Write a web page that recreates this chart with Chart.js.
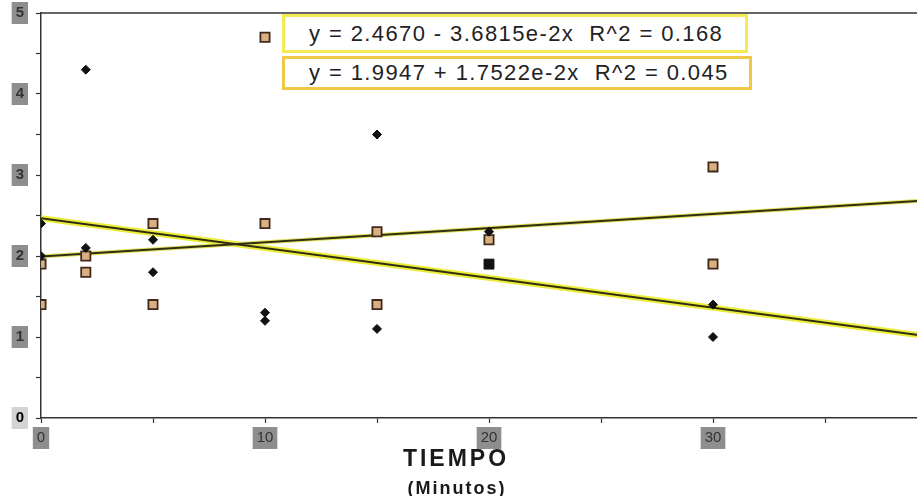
<!DOCTYPE html>
<html>
<head>
<meta charset="utf-8">
<script src="https://cdn.jsdelivr.net/npm/chart.js@4"></script>
<style>
    html, body { margin: 0; padding: 0; background: #fff; overflow: hidden; }
    #wrap { position: relative; width: 950px; height: 496px; }
    .eq {
        position: absolute; left: 282px; background: #fff; box-sizing: border-box;
        font-family: "Liberation Sans", Arial, sans-serif; font-size: 22px; color: #222;
        letter-spacing: 1.4px; padding-left: 24px; white-space: pre;
    }
    #eq1 { top: 14px; width: 466px; height: 39px; line-height: 33px; border: 3px solid #f4ea55; }
    #eq2 { top: 56px; width: 470px; height: 34px; line-height: 28px; border: 3px solid #efc845; }
</style>
</head>
<body>
<div id="wrap">
    <canvas id="myChart" width="950" height="496"></canvas>
    <div class="eq" id="eq1">y = 2.4670 - 3.6815e-2x  R^2 = 0.168</div>
    <div class="eq" id="eq2">y = 1.9947 + 1.7522e-2x  R^2 = 0.045</div>
</div>
<script>
    const xTicks = [0, 10, 20, 30, 40];
    const yTicks = [0, 1, 2, 3, 4, 5];

    // rombos negros
    const xA = [0, 0, 2, 2, 5, 5, 10, 10, 15, 15, 20, 30, 30];
    const yA = [2.4, 2.0, 4.3, 2.1, 2.2, 1.8, 1.3, 1.2, 3.5, 1.1, 2.3, 1.4, 1.0];
    // cuadrados
    const xB = [0, 0, 2, 2, 5, 5, 10, 10, 15, 15, 20, 30, 30];
    const yB = [1.9, 1.4, 2.0, 1.8, 2.4, 1.4, 4.7, 2.4, 2.3, 1.4, 2.2, 3.1, 1.9];
    // punto compartido
    const xBoth = [20];
    const yBoth = [1.9];

    const fitDownX = [0, 40];
    const fitDownY = [2.467, 0.994];
    const fitUpX = [0, 40];
    const fitUpY = [1.995, 2.696];

    function pts(xs, ys) {
        return xs.map((x, i) => ({x: x, y: ys[i]}));
    }

    function tv(c) {
        return c.tick ? c.tick.value : null;
    }

    const frame = {
        id: 'frame',
        afterDraw(chart) {
            let ctx = chart.ctx;
            let a = chart.chartArea;
            ctx.save();
            ctx.strokeStyle = '#333';
            ctx.lineWidth = 1.5;
            ctx.beginPath();
            ctx.moveTo(a.left, a.top);
            ctx.lineTo(a.right, a.top);
            ctx.lineTo(a.right, a.bottom);
            ctx.stroke();
            ctx.fillStyle = '#1a1a1a';
            ctx.textAlign = 'center';
            ctx.textBaseline = 'middle';
            ctx.font = 'bold 23px "Liberation Sans", Arial, sans-serif';
            ctx.letterSpacing = '3px';
            ctx.fillText('TIEMPO', 456, 460);
            ctx.font = 'bold 18px "Liberation Sans", Arial, sans-serif';
            ctx.letterSpacing = '2px';
            ctx.fillText('(Minutos)', 457, 489);
            ctx.restore();
        }
    };

    var ctx = document.getElementById('myChart').getContext('2d');
    var myChart = new Chart(ctx, {
        type: 'scatter',
        data: {
            datasets: [{
                label: 'ambos',
                data: pts(xBoth, yBoth),
                pointStyle: 'rect',
                pointRadius: 7,
                backgroundColor: '#111',
                borderColor: '#111',
                order: 0
            }, {
                label: 'A',
                data: pts(xA, yA),
                pointStyle: 'rectRot',
                pointRadius: 4.5,
                backgroundColor: '#111',
                borderColor: '#111',
                borderWidth: 1,
                order: 1
            }, {
                label: 'B',
                data: pts(xB, yB),
                pointStyle: 'rect',
                pointRadius: 6.5,
                backgroundColor: '#dcaf80',
                borderColor: '#3e2a1c',
                borderWidth: 1.8,
                order: 2
            }, {
                label: 'ajuste 1',
                data: pts(fitDownX, fitDownY),
                type: 'line',
                showLine: true,
                pointRadius: 0,
                borderColor: '#2e2e12',
                borderWidth: 2,
                order: 5
            }, {
                label: 'ajuste 1 halo',
                data: pts(fitDownX, fitDownY),
                type: 'line',
                showLine: true,
                pointRadius: 0,
                borderColor: '#ecec3a',
                borderWidth: 6,
                order: 7
            }, {
                label: 'ajuste 2',
                data: pts(fitUpX, fitUpY),
                type: 'line',
                showLine: true,
                pointRadius: 0,
                borderColor: '#2e2e12',
                borderWidth: 2,
                order: 4
            }, {
                label: 'ajuste 2 halo',
                data: pts(fitUpX, fitUpY),
                type: 'line',
                showLine: true,
                pointRadius: 0,
                borderColor: '#e4e05a',
                borderWidth: 4,
                order: 6
            }]
        },
        options: {
            responsive: false,
            animation: false,
            layout: {padding: {left: 0, right: 13, top: 13, bottom: 0}},
            plugins: {
                legend: {display: false},
                tooltip: {enabled: false}
            },
            scales: {
                x: {
                    type: 'linear',
                    min: 0,
                    max: 40,
                    afterFit: (scale) => {
                        scale.height = 78;
                        scale.paddingLeft = 0;
                        scale.paddingRight = 0;
                    },
                    border: {display: true, color: '#333', width: 1.5},
                    grid: {drawOnChartArea: false, tickLength: 5, tickColor: '#333', tickWidth: 1.2},
                    ticks: {
                        stepSize: 5,
                        padding: 6,
                        maxRotation: 0,
                        color: '#333',
                        font: {family: '"Liberation Sans", Arial, sans-serif', size: 15},
                        showLabelBackdrop: true,
                        backdropColor: (c) => xTicks.includes(tv(c)) ? '#8e8e8e' : 'rgba(0,0,0,0)',
                        backdropPadding: {x: 4, y: 2},
                        callback: (v) => xTicks.includes(v) ? String(v) : ''
                    }
                },
                y: {
                    type: 'linear',
                    min: 0,
                    max: 5,
                    afterFit: (scale) => {
                        scale.width = 41;
                        scale.paddingTop = 0;
                        scale.paddingBottom = 0;
                    },
                    border: {display: true, color: '#333', width: 1.5},
                    grid: {drawOnChartArea: false, tickLength: 5, tickColor: '#333', tickWidth: 1.2},
                    ticks: {
                        stepSize: 0.5,
                        padding: 12,
                        color: (c) => tv(c) === 0 ? '#000' : '#333',
                        font: {family: '"Liberation Sans", Arial, sans-serif', size: 15, weight: 'bold'},
                        showLabelBackdrop: true,
                        backdropColor: (c) => !yTicks.includes(tv(c)) ? 'rgba(0,0,0,0)' : (tv(c) === 0 ? '#d4d4d4' : '#8e8e8e'),
                        backdropPadding: {x: 4, y: 2},
                        callback: (v) => yTicks.includes(v) ? String(v) : ''
                    }
                }
            }
        },
        plugins: [frame]
    });
</script>
</body>
</html>
